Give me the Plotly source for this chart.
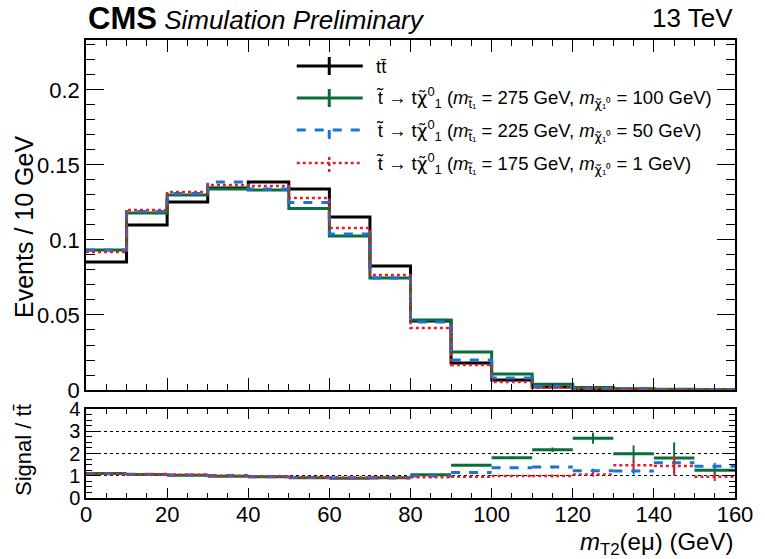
import plotly.graph_objects as go

# ---------------- data ----------------
edges = [0, 10, 20, 30, 40, 50, 60, 70, 80, 90, 100, 110, 120, 130, 140, 150, 160]
ttbar = [0.0853, 0.110, 0.1253, 0.1347, 0.1387, 0.134, 0.1153, 0.0827, 0.046, 0.018,
         0.0067, 0.002, 0.0008, 0.0005, 0.0003, 0.0002]
stop275 = [0.0933, 0.118, 0.130, 0.134, 0.1333, 0.121, 0.1027, 0.0747, 0.0467, 0.0253,
           0.0107, 0.0038, 0.0016, 0.0008, 0.0005, 0.0003]
stop225 = [0.0933, 0.119, 0.131, 0.1387, 0.134, 0.125, 0.104, 0.0747, 0.0453, 0.020,
           0.008, 0.0024, 0.0010, 0.0006, 0.0004, 0.0003]
stop175 = [0.092, 0.120, 0.132, 0.1367, 0.136, 0.128, 0.108, 0.0767, 0.0413, 0.0167,
           0.0053, 0.0016, 0.0008, 0.0007, 0.0004, 0.0002]

ratio275 = [1.10, 1.06, 1.02, 0.98, 0.95, 0.91, 0.89, 0.91, 1.05, 1.47, 1.81, 2.17, 2.69, 1.99, 1.80, 1.25]
err275 = [0.01, 0.01, 0.01, 0.01, 0.01, 0.01, 0.01, 0.01, 0.02, 0.03, 0.05, 0.10, 0.25, 0.37, 0.70, 0.26]
ratio225 = [1.09, 1.07, 1.03, 1.01, 0.96, 0.92, 0.90, 0.90, 0.99, 1.15, 1.36, 1.39, 1.22, 1.21, 1.58, 1.43]
err225 = [0.01, 0.01, 0.01, 0.01, 0.01, 0.01, 0.01, 0.01, 0.02, 0.03, 0.04, 0.06, 0.10, 0.15, 0.25, 0.15]
ratio175 = [1.08, 1.07, 1.04, 1.00, 0.97, 0.94, 0.92, 0.92, 0.93, 0.96, 0.99, 0.99, 1.06, 1.47, 1.44, 0.96]
err175 = [0.01, 0.01, 0.01, 0.01, 0.01, 0.01, 0.01, 0.01, 0.02, 0.03, 0.04, 0.06, 0.10, 0.20, 0.45, 0.20]

x_ticks = [0, 20, 40, 60, 80, 100, 120, 140, 160]

BLACK = "#000000"
GREEN = "#0b6e3a"
BLUE = "#1a73d9"
RED = "#e3202a"
FONT = "Liberation Sans"

series = [
    ("ttbar", ttbar, None, None, BLACK, "solid", 3),
    ("s275", stop275, ratio275, err275, GREEN, "solid", 3),
    ("s225", stop225, ratio225, err225, BLUE, "dash", 3),
    ("s175", stop175, ratio175, err175, RED, "dot", 2.5),
]

fig = go.Figure()

centers = [(edges[i] + edges[i + 1]) / 2 for i in range(len(edges) - 1)]

for name, vals, rat, err, col, dash, w in series:
    fig.add_trace(go.Scatter(
        x=edges, y=list(vals) + [vals[-1]], mode="lines", line_shape="hv",
        line=dict(color=col, width=w, dash=dash), xaxis="x", yaxis="y",
        showlegend=False, hoverinfo="skip"))
    if rat is not None:
        xs, ys = [], []
        for i, r in enumerate(rat):
            xs += [edges[i], edges[i + 1], None]
            ys += [r, r, None]
        fig.add_trace(go.Scatter(
            x=xs, y=ys, mode="lines", line=dict(color=col, width=w, dash=dash),
            xaxis="x2", yaxis="y2", showlegend=False, hoverinfo="skip"))
        fig.add_trace(go.Scatter(
            x=centers, y=rat, mode="markers", marker=dict(size=1, color=col),
            error_y=dict(type="data", array=err, color=col, thickness=2, width=0),
            xaxis="x2", yaxis="y2", showlegend=False, hoverinfo="skip"))

axis_common = dict(
    showline=True, linecolor="black", linewidth=1.5, mirror="allticks",
    ticks="inside", tickcolor="black", tickwidth=1, zeroline=False,
)
tick22 = dict(family=FONT, size=22, color="black")

fig.update_layout(
    width=765, height=559,
    margin=dict(l=86, r=20, t=40, b=61),
    paper_bgcolor="white", plot_bgcolor="white",
    xaxis=dict(domain=[0, 1], range=[0, 160], anchor="y", showticklabels=False,
               tickvals=x_ticks, ticklen=12, showgrid=False, tickfont=tick22,
               minor=dict(dtick=5, ticklen=6, ticks="inside", tickcolor="black", showgrid=False),
               **axis_common),
    yaxis=dict(domain=[0.2358, 1], range=[0, 0.2333], anchor="x",
               tickvals=[0, 0.05, 0.1, 0.15, 0.2], ticktext=["0", "0.05", "0.1", "0.15", "0.2"],
               ticklen=18, showgrid=False, tickfont=tick22,
               minor=dict(dtick=0.01, ticklen=9, ticks="inside", tickcolor="black", showgrid=False),
               **axis_common),
    xaxis2=dict(domain=[0, 1], range=[0, 160], anchor="y2", tickvals=x_ticks,
                ticklen=10, showgrid=False, tickfont=tick22, ticklabelstandoff=-4,
                minor=dict(dtick=5, ticklen=5, ticks="inside", tickcolor="black", showgrid=False),
                **axis_common),
    yaxis2=dict(domain=[0, 0.1943], range=[0, 4], anchor="x2",
                tickvals=[0, 1, 2, 3, 4], ticklen=12,
                tickfont=dict(family=FONT, size=20, color="black"),
                showgrid=True, gridcolor="black", griddash="dot", gridwidth=1,
                minor=dict(dtick=0.25, ticklen=6, ticks="inside", tickcolor="black", showgrid=False),
                **axis_common),
)

PW, PH, B = 659, 458, 61
H = 559


def px_x(x):
    return (x - 86) / PW


def px_y(y):
    return (H - B - y) / PH


ann = []
# header
ann.append(dict(x=0, y=px_y(18), xref="paper", yref="paper", xanchor="left", yanchor="middle",
                showarrow=False,
                text="<b><span style='font-size:31px'>CMS</span></b> <i>Simulation Preliminary</i>",
                font=dict(family=FONT, size=26, color="black")))
ann.append(dict(x=1, y=px_y(18), xref="paper", yref="paper", xanchor="right", yanchor="middle",
                showarrow=False, text="13 TeV",
                font=dict(family=FONT, size=26, color="black")))
# axis titles
ann.append(dict(x=px_x(23), y=px_y(227), xref="paper", yref="paper", xanchor="center", yanchor="middle",
                showarrow=False, textangle=-90, text="Events / 10 GeV",
                font=dict(family=FONT, size=25, color="black")))
ann.append(dict(x=px_x(22), y=px_y(450), xref="paper", yref="paper", xanchor="center", yanchor="middle",
                showarrow=False, textangle=-90, text="Signal / tt\u0304",
                font=dict(family=FONT, size=22, color="black")))
ann.append(dict(x=1, y=px_y(543), xref="paper", yref="paper", xanchor="right", yanchor="middle",
                showarrow=False, text="<i>m</i><sub>T2</sub>(eμ) (GeV)",
                font=dict(family=FONT, size=24, color="black")))

# legend
CHI = "<span style='font-family:DejaVu Sans'>χ\u0303</span>"
leg_labels = [
    "tt\u0304",
    f"t\u0303 → t{CHI}<sup>0</sup><sub>1</sub> (<i>m</i><sub>t\u0303₁</sub> = 275 GeV, <i>m</i><sub>{CHI}₁⁰</sub> = 100 GeV)",
    f"t\u0303 → t{CHI}<sup>0</sup><sub>1</sub> (<i>m</i><sub>t\u0303₁</sub> = 225 GeV, <i>m</i><sub>{CHI}₁⁰</sub> = 50 GeV)",
    f"t\u0303 → t{CHI}<sup>0</sup><sub>1</sub> (<i>m</i><sub>t\u0303₁</sub> = 175 GeV, <i>m</i><sub>{CHI}₁⁰</sub> = 1 GeV)",
]
leg_y_px = [66, 98, 130, 163]
shapes = []
for (name, vals, rat, err, col, dash, w), lab, ypx in zip(series, leg_labels, leg_y_px):
    yp = px_y(ypx)
    shapes.append(dict(type="line", xref="paper", yref="paper", x0=px_x(300), x1=px_x(367),
                       y0=yp, y1=yp, line=dict(color=col, width=w, dash=dash)))
    shapes.append(dict(type="line", xref="paper", yref="paper", x0=px_x(333), x1=px_x(333),
                       y0=yp - 9 / PH, y1=yp + 9 / PH,
                       line=dict(color=col, width=w, dash=dash)))
    ann.append(dict(x=px_x(378), y=yp, xref="paper", yref="paper", xanchor="left",
                    yanchor="middle", showarrow=False, text=lab,
                    font=dict(family=FONT, size=18.5, color="black")))

fig.update_layout(annotations=ann, shapes=shapes)

fig.write_html("out.html")
